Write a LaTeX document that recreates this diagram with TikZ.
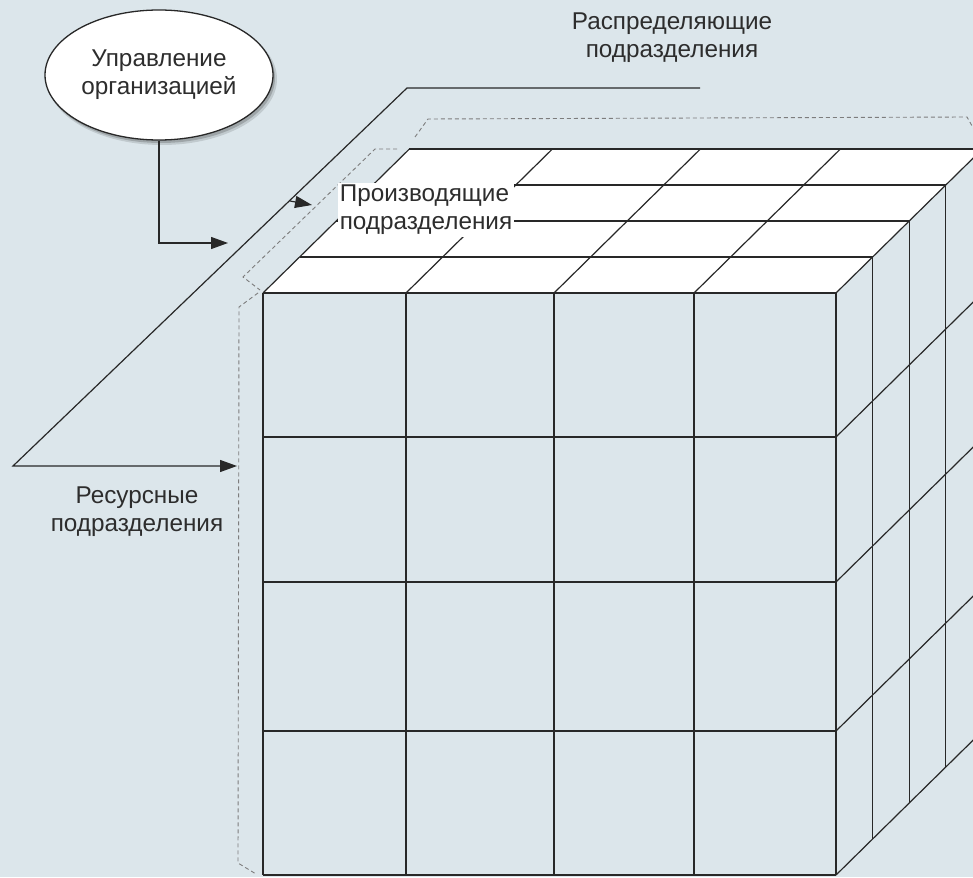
\documentclass[tikz,border=0pt]{standalone}
\usepackage{fontspec}
\setmainfont{Liberation Sans}
\usetikzlibrary{arrows.meta,shapes.geometric}
\definecolor{bgc}{RGB}{220,230,235}
\definecolor{lnc}{RGB}{40,40,40}
\definecolor{dshc}{RGB}{125,125,125}
\definecolor{txtc}{RGB}{45,45,45}
\tikzset{
  edge/.style={draw=lnc, line width=1.2pt},
  conn/.style={draw=lnc, line width=1.2pt, -{Triangle[length=17pt,width=12pt]}},
  dashbox/.style={draw=dshc, line width=0.9pt, dash pattern=on 4pt off 3pt},
  lbl/.style={font=\fontsize{24.3}{28}\selectfont, text=txtc, align=center, inner sep=2pt},
}
\begin{document}
\begin{tikzpicture}[x=1pt,y=-1pt]
\fill[bgc] (0,0) rectangle (973,877);
\useasboundingbox (0,0) rectangle (973,877);
\def\ddx{36.6}
\def\ddy{-36}
\begin{scope}
\clip (0,0) rectangle (973,877);
% top face
\fill[white] (263,293) -- (836,293) -- ({836+4*\ddx},{293+4*\ddy}) -- ({263+4*\ddx},{293+4*\ddy}) -- cycle;
\foreach \k in {0,1,2,3,4}
  \draw[edge] ({263+\k*\ddx},{293+\k*\ddy}) -- ({836+\k*\ddx},{293+\k*\ddy});
\foreach \xx in {263,406,554,694,836}
  \draw[edge] (\xx,293) -- ({\xx+4*\ddx},{293+4*\ddy});
% front face
\foreach \xx in {263,406,554,694,836}
  \draw[edge] (\xx,293) -- (\xx,875);
\foreach \yy in {293,437,582,731,875}
  \draw[edge] (263,\yy) -- (836,\yy);
% right face
\foreach \k in {1,2,3,4}
  \draw[edge] ({836+\k*\ddx},{293+\k*\ddy}) -- ({836+\k*\ddx},{875+\k*\ddy});
\foreach \yy in {437,582,731,875}
  \draw[edge] (836,\yy) -- ({836+4*\ddx},{\yy+4*\ddy});
% dashed outlines
\draw[dashbox] (415,137) -- (428,119) -- (967,117) -- (980,140);
\draw[dashbox] (397,149) -- (375,149) -- (243,277) -- (260,290);
\draw[dashbox] (258,293) -- (239,307) -- (238,863) -- (256,874);
\end{scope}
% ellipse with shadow
\fill[black, opacity=0.12] (162,79) ellipse [x radius=115, y radius=66];
\fill[black, opacity=0.18] (161,78) ellipse [x radius=114, y radius=65];
\node[ellipse, draw=lnc, line width=1.3pt, fill=white, minimum width=228pt, minimum height=130pt, inner sep=0pt, lbl] (mgmt) at (159,75) {Управление\\организацией};
% labels
\node[lbl] (dist) at (672,38) {Распределяющие\\подразделения};
\node[lbl] (res) at (137,512) {Ресурсные\\подразделения};
\node[lbl, fill=white, align=left, inner sep=2pt] (prod) at (426,210) {Производящие\\подразделения};
% connectors
\coordinate (zTop) at (700,88);
\coordinate (zA) at (407,88);
\coordinate (zB) at (13,466);
\coordinate (resTip) at (237,466);
\draw[conn] (zTop) -- (zA) -- (zB) -- (resTip);
\coordinate (pStart) at (290,201);
\coordinate (pTip) at (312,205);
\draw[conn] (pStart) -- (pTip);
\coordinate (mTip) at (228,243);
\draw[conn] (mgmt.south) |- (mTip);
\end{tikzpicture}
\end{document}
